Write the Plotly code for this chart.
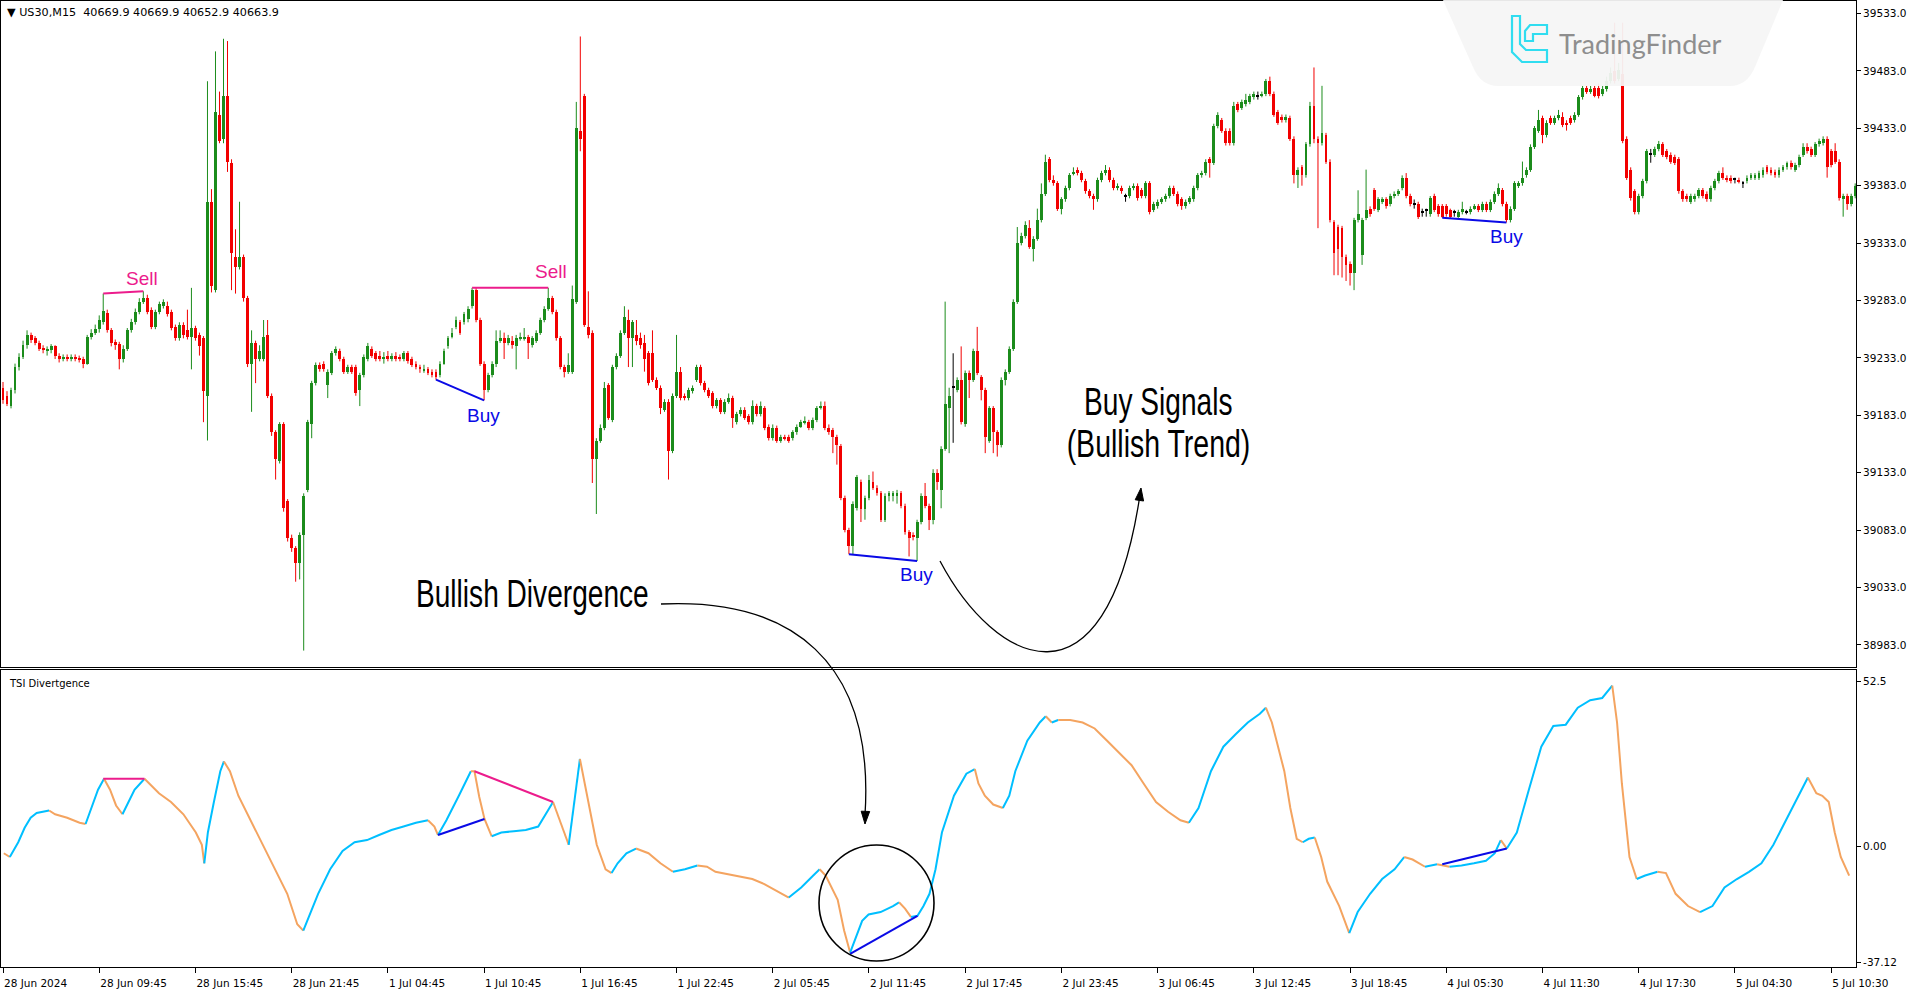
import plotly.graph_objects as go

W, H = 1920, 997

# ---------------- DATA ----------------
open_ = [
39207,39200,39191,39205,39225,39234,39244,39253,39250,39246,
39242,39239,39240,39243,39235,39232,39234,39232,39234,39233,
39232,39228,39251,39255,39258,39264,39272,39257,39247,39245,
39232,39241,39257,39264,39273,39282,39285,39275,39260,39273,
39278,39278,39273,39260,39250,39262,39257,39251,39259,39253,
39250,39200,39369,39292,39445,39424,39461,39403,39321,39312,
39321,39285,39228,39246,39232,39232,39253,39200,39168,39143,
39175,39108,39076,39067,39054,39079,39118,39175,39211,39227,
39228,39209,39220,39237,39239,39232,39221,39225,39225,39205,
39218,39232,39241,39237,39235,39232,39235,39232,39235,39234,
39232,39237,39232,39228,39225,39222,39223,39221,39221,39218,
39228,39243,39251,39260,39264,39264,39267,39278,39292,39266,
39228,39205,39218,39228,39248,39250,39246,39248,39243,39250,
39250,39251,39244,39248,39255,39266,39276,39285,39273,39250,
39225,39221,39221,39282,39431,39461,39260,39255,39145,39161,
39172,39209,39179,39225,39235,39255,39266,39250,39253,39250,
39246,39237,39237,39214,39207,39188,39195,39152,39200,39221,
39200,39198,39204,39214,39225,39211,39205,39202,39191,39196,
39186,39195,39198,39177,39184,39188,39182,39177,39191,39184,
39189,39173,39163,39172,39161,39164,39164,39163,39168,39173,
39177,39177,39172,39179,39189,39191,39172,39170,39164,39156,
39111,39083,39069,39102,39125,39101,39111,39125,39120,39115,
39092,39113,39113,39113,39115,39104,39081,39079,39076,39090,
39113,39104,39092,39133,39118,39154,39189,39207,39205,39214,
39175,39220,39214,39239,39216,39205,39161,39189,39168,39157,
39214,39221,39241,39282,39333,39339,39346,39328,39337,39353,
39376,39406,39388,39385,39363,39371,39381,39394,39397,39394,
39387,39378,39374,39371,39388,39394,39397,39388,39381,39381,
39374,39374,39381,39383,39379,39374,39385,39362,39365,39369,
39371,39374,39381,39376,39371,39365,39369,39371,39381,39392,
39394,39406,39403,39435,39440,39431,39431,39420,39454,39451,
39454,39456,39460,39461,39461,39463,39474,39463,39447,39443,
39440,39442,39424,39392,39399,39392,39419,39452,39424,39420,
39427,39404,39351,39347,39346,39321,39315,39307,39353,39323,
39355,39363,39379,39362,39369,39371,39367,39374,39376,39381,
39390,39374,39367,39367,39360,39361,39358,39374,39365,39365,
39365,39362,39360,39356,39360,39360,39360,39363,39365,39362,
39367,39362,39369,39376,39379,39367,39353,39363,39383,39385,
39392,39397,39417,39431,39442,39427,39442,39438,39442,39443,
39438,39442,39440,39445,39460,39468,39465,39468,39468,39463,
39467,39474,39483,39476,39480,39424,39397,39378,39360,39374,
39387,39410,39410,39415,39419,39413,39410,39408,39406,39378,
39374,39369,39371,39374,39379,39376,39371,39381,39387,39394,
39390,39390,39388,39388,39385,39387,39390,39390,39390,39392,
39399,39397,39395,39392,39397,39399,39403,39397,39401,39410,
39417,39415,39410,39419,39420,39424,39413,39413,39404,39371,
39374,39367,39374]

close_ = [
39196,39193,39205,39225,39234,39244,39253,39249,39246,39241,
39240,39241,39243,39235,39232,39234,39232,39234,39232,39231,
39228,39251,39255,39258,39266,39274,39257,39246,39244,39232,
39241,39257,39264,39273,39282,39285,39273,39260,39273,39280,
39282,39271,39259,39250,39262,39253,39251,39259,39250,39243,
39204,39369,39296,39447,39422,39461,39404,39324,39312,39321,
39285,39228,39246,39232,39239,39251,39200,39168,39145,39175,
39102,39076,39067,39054,39079,39113,39177,39211,39227,39223,
39223,39221,39237,39241,39232,39221,39225,39221,39202,39218,
39234,39243,39235,39232,39232,39234,39232,39235,39232,39232,
39237,39230,39227,39225,39223,39223,39220,39218,39216,39228,
39239,39250,39255,39266,39255,39271,39276,39292,39266,39228,
39205,39218,39228,39248,39250,39246,39250,39244,39250,39251,
39251,39246,39250,39255,39266,39276,39285,39273,39250,39225,
39221,39227,39284,39433,39424,39262,39253,39145,39161,39172,
39207,39181,39225,39235,39255,39269,39250,39264,39248,39244,
39232,39211,39214,39207,39189,39195,39152,39200,39221,39198,
39198,39205,39207,39225,39211,39205,39200,39191,39196,39186,
39195,39198,39181,39184,39188,39181,39177,39191,39184,39191,
39172,39163,39172,39161,39164,39163,39161,39168,39173,39177,
39178,39172,39179,39189,39191,39172,39168,39164,39157,39111,
39083,39069,39106,39129,39101,39111,39127,39120,39115,39092,
39113,39115,39115,39115,39104,39081,39076,39077,39090,39113,
39104,39092,39133,39125,39154,39193,39200,39207,39214,39177,
39220,39214,39239,39220,39205,39164,39189,39168,39157,39214,
39221,39241,39282,39333,39339,39349,39330,39337,39353,39376,
39404,39388,39385,39363,39371,39381,39392,39395,39394,39388,
39378,39374,39371,39388,39394,39397,39388,39381,39383,39378,
39374,39381,39383,39372,39374,39385,39360,39367,39369,39371,
39374,39381,39376,39367,39365,39369,39372,39381,39392,39394,
39404,39403,39435,39445,39431,39420,39420,39452,39449,39456,
39458,39461,39463,39461,39463,39474,39463,39445,39438,39440,
39443,39424,39392,39397,39392,39419,39452,39424,39420,39429,
39404,39353,39324,39328,39321,39314,39307,39353,39358,39353,
39362,39358,39363,39371,39371,39365,39374,39376,39378,39390,
39374,39367,39367,39356,39360,39361,39372,39362,39358,39356,
39358,39356,39360,39360,39363,39360,39363,39365,39362,39367,
39362,39369,39376,39381,39367,39353,39363,39385,39385,39390,
39397,39417,39433,39440,39427,39438,39438,39442,39445,39436,
39436,39438,39445,39460,39468,39465,39467,39461,39461,39467,
39474,39481,39474,39484,39422,39390,39372,39360,39374,39387,
39413,39410,39415,39419,39410,39408,39404,39403,39378,39371,
39371,39374,39374,39379,39374,39371,39381,39387,39394,39390,
39388,39387,39388,39387,39385,39390,39392,39392,39394,39397,
39395,39394,39392,39397,39399,39403,39399,39401,39408,39417,
39413,39410,39419,39422,39424,39399,39401,39404,39372,39374,
39367,39374,39383]

high_ = [
39212,39204,39207,39228,39237,39248,39257,39255,39252,39248,
39244,39243,39245,39244,39237,39236,39236,39236,39236,39235,
39234,39253,39258,39262,39270,39289,39275,39259,39249,39247,
39244,39259,39267,39276,39285,39291,39288,39277,39275,39282,
39284,39282,39275,39262,39264,39264,39275,39294,39261,39255,
39252,39474,39380,39500,39465,39511,39509,39406,39345,39369,
39323,39287,39257,39248,39244,39266,39266,39202,39170,39177,
39177,39110,39079,39069,39081,39115,39179,39213,39229,39229,
39230,39223,39239,39243,39241,39234,39227,39227,39227,39220,
39236,39246,39243,39239,39239,39238,39239,39237,39238,39236,
39239,39239,39234,39230,39227,39227,39225,39223,39223,39230,
39241,39252,39259,39269,39266,39273,39278,39294,39294,39268,
39230,39220,39230,39257,39257,39255,39253,39252,39253,39255,
39259,39253,39252,39257,39268,39278,39294,39287,39275,39252,
39227,39237,39296,39456,39513,39463,39291,39257,39163,39175,
39212,39211,39227,39237,39257,39278,39275,39266,39266,39255,
39253,39239,39257,39216,39209,39197,39197,39202,39253,39225,
39202,39207,39209,39227,39227,39213,39207,39204,39198,39198,
39197,39202,39200,39186,39190,39190,39184,39196,39193,39195,
39191,39175,39175,39174,39166,39166,39166,39170,39175,39179,
39182,39179,39181,39191,39195,39195,39175,39172,39166,39158,
39113,39085,39108,39131,39127,39113,39131,39134,39122,39117,
39115,39117,39117,39118,39117,39106,39083,39081,39092,39115,
39124,39106,39136,39136,39156,39282,39207,39237,39216,39243,
39222,39222,39241,39260,39218,39207,39191,39191,39170,39216,
39223,39243,39284,39347,39342,39352,39353,39339,39363,39385,
39410,39408,39392,39387,39373,39383,39394,39399,39399,39396,
39389,39380,39376,39390,39396,39401,39399,39390,39385,39383,
39376,39383,39385,39385,39381,39387,39387,39369,39371,39373,
39376,39383,39383,39378,39373,39371,39374,39383,39394,39396,
39406,39408,39437,39447,39442,39433,39433,39456,39456,39458,
39463,39463,39465,39465,39465,39476,39478,39465,39449,39445,
39445,39444,39426,39399,39401,39421,39456,39486,39426,39470,
39429,39406,39353,39349,39348,39323,39317,39355,39379,39355,
39397,39365,39381,39373,39373,39373,39376,39378,39380,39392,
39394,39376,39371,39369,39363,39363,39374,39376,39367,39367,
39367,39363,39362,39362,39369,39362,39365,39367,39367,39369,
39369,39371,39378,39385,39381,39369,39365,39387,39387,39404,
39399,39419,39435,39449,39444,39440,39444,39444,39449,39447,
39440,39444,39447,39462,39470,39470,39470,39470,39472,39470,
39478,39486,39525,39490,39525,39426,39399,39380,39376,39389,
39415,39415,39417,39422,39421,39415,39412,39410,39408,39380,
39376,39376,39376,39381,39381,39378,39383,39389,39396,39399,
39392,39392,39390,39390,39387,39392,39394,39394,39396,39399,
39401,39399,39397,39399,39401,39404,39405,39403,39410,39420,
39420,39417,39421,39424,39426,39426,39415,39420,39406,39376,
39376,39376,39385]

low_ = [
39193,39191,39189,39202,39222,39232,39241,39246,39244,39239,
39237,39235,39237,39232,39229,39230,39230,39230,39230,39229,
39224,39227,39249,39253,39255,39262,39255,39243,39240,39223,
39229,39239,39255,39262,39271,39280,39271,39258,39258,39271,
39276,39269,39257,39248,39248,39250,39249,39223,39248,39235,
39177,39161,39290,39290,39420,39420,39395,39292,39289,39310,
39282,39225,39186,39211,39230,39230,39198,39165,39127,39141,
39099,39073,39064,39038,39040,38978,39116,39163,39209,39221,
39221,39198,39218,39235,39230,39219,39219,39219,39200,39191,
39216,39230,39233,39230,39230,39228,39230,39230,39230,39230,
39230,39228,39225,39223,39220,39220,39218,39216,39214,39216,
39227,39241,39250,39258,39253,39262,39264,39276,39264,39226,
39196,39203,39216,39225,39246,39232,39244,39241,39223,39248,
39248,39232,39242,39246,39253,39264,39274,39271,39248,39223,
39216,39219,39219,39280,39413,39260,39250,39124,39097,39159,
39170,39179,39177,39223,39233,39253,39225,39225,39244,39241,
39221,39209,39212,39205,39184,39186,39127,39150,39198,39196,
39196,39196,39202,39212,39209,39203,39198,39189,39189,39184,
39184,39193,39172,39175,39182,39179,39175,39175,39182,39182,
39170,39161,39161,39159,39159,39161,39159,39161,39166,39172,
39175,39170,39170,39177,39188,39170,39166,39150,39140,39109,
39081,39062,39062,39100,39090,39092,39109,39118,39113,39090,
39090,39108,39108,39106,39102,39079,39060,39074,39056,39088,
39102,39083,39088,39118,39102,39152,39150,39159,39203,39175,
39173,39198,39212,39218,39196,39150,39159,39150,39147,39155,
39209,39219,39239,39280,39331,39337,39328,39317,39335,39351,
39374,39386,39383,39361,39358,39369,39379,39392,39392,39386,
39376,39372,39362,39369,39386,39392,39386,39379,39379,39376,
39369,39372,39379,39370,39372,39372,39358,39360,39363,39367,
39369,39372,39374,39365,39362,39363,39367,39369,39379,39390,
39392,39390,39401,39433,39429,39418,39418,39418,39447,39449,
39452,39454,39458,39458,39460,39461,39461,39443,39436,39438,
39438,39422,39385,39381,39383,39390,39417,39420,39346,39418,
39402,39351,39305,39305,39303,39300,39296,39292,39351,39314,
39353,39356,39361,39360,39367,39363,39365,39372,39374,39379,
39372,39365,39363,39354,39356,39356,39356,39360,39356,39355,
39356,39355,39356,39355,39358,39358,39358,39362,39360,39360,
39360,39360,39367,39374,39365,39351,39351,39361,39381,39383,
39390,39395,39415,39429,39420,39425,39436,39436,39440,39434,
39431,39436,39438,39443,39458,39463,39463,39460,39459,39461,
39465,39472,39472,39474,39420,39388,39370,39358,39358,39372,
39385,39403,39408,39413,39408,39406,39402,39401,39376,39369,
39369,39367,39369,39372,39372,39369,39369,39379,39385,39388,
39386,39385,39385,39385,39381,39385,39388,39388,39388,39390,
39393,39392,39390,39390,39395,39397,39397,39395,39399,39408,
39411,39408,39408,39417,39418,39390,39399,39402,39370,39356,
39362,39365,39372]

tick_bars = [0, 24, 48, 72, 96, 120, 144, 168, 192, 216, 240, 264, 288, 312, 336, 360, 384, 408, 432, 456]
tick_labels = ["28 Jun 2024", "28 Jun 09:45", "28 Jun 15:45", "28 Jun 21:45", "1 Jul 04:45",
               "1 Jul 10:45", "1 Jul 16:45", "1 Jul 22:45", "2 Jul 05:45", "2 Jul 11:45",
               "2 Jul 17:45", "2 Jul 23:45", "3 Jul 06:45", "3 Jul 12:45", "3 Jul 18:45",
               "4 Jul 05:30", "4 Jul 11:30", "4 Jul 17:30", "5 Jul 04:30", "5 Jul 10:30"]

price_ticks = [38983, 39033, 39083, 39133, 39183, 39233, 39283, 39333, 39383, 39433, 39483, 39533]
tsi_ticks = [52.5, 0.0, -37.12]
tsi_tick_labels = ["52.5", "0.00", "-37.12"]

tsi_bar = [0.2, 1.7, 3.8, 5.4, 6.9, 8.4, 9.9, 11.5, 13.0, 16.0,
           19.1, 20.6, 22.1, 23.7, 25.2, 26.7, 28.2, 29.8, 31.3, 32.8,
           35.3, 36.5, 38.9, 41.9, 45.0, 48.1, 49.6, 50.2, 51.1, 52.6,
           54.2, 55.1, 56.6, 58.7, 61.8, 64.8, 67.9, 70.9, 73.4, 74.9,
           76.1, 78.6, 81.6, 84.7, 87.7, 90.8, 93.8, 96.9, 99.9, 103.0,
           106.0, 107.6, 108.5, 110.6, 113.7, 116.7, 117.6, 118.8, 120.1, 121.9,
           124.3, 127.4, 130.4, 133.5, 135.3, 137.2, 139.0, 141.1, 142.6, 143.9,
           145.1, 146.3, 148.1, 150.3, 151.8, 153.3, 155.5, 157.9, 161.0, 164.0,
           167.1, 170.1, 173.2, 175.6, 177.7, 182.3, 186.9, 189.9, 194.5, 196.0,
           199.1, 202.1, 203.7, 205.2, 208.2, 209.8, 211.3, 212.8, 214.3, 215.9,
           218.9, 222.0, 223.5, 225.0, 226.5, 228.1, 229.6, 231.1, 232.6, 234.2,
           237.2, 240.3, 242.4, 243.3, 244.9, 247.0, 249.4, 251.0, 252.5, 255.5,
           258.6, 260.1, 261.6, 263.2, 266.2, 269.3, 272.3, 275.4, 278.4, 281.5,
           284.5, 287.6, 290.6, 293.7, 295.8, 298.2, 301.3, 304.4, 307.4, 310.5,
           313.5, 315.0, 316.5, 319.6, 321.1, 322.7, 324.2, 325.7, 327.2, 328.8,
           330.3, 333.3, 335.8, 337.9, 341.0, 344.0, 347.1, 349.5, 351.6, 354.7,
           357.7, 360.8, 363.8, 366.9, 369.9, 372.1, 373.6, 375.1, 377.6, 380.6,
           383.7, 386.7, 389.8, 392.8, 395.9, 398.9, 401.4, 402.6, 403.8, 405.7,
           407.5, 409.6, 412.7, 414.8, 417.2, 420.3, 423.3, 426.4, 429.4, 432.5,
           435.5, 438.6, 441.6, 444.7, 447.7, 450.2, 452.3, 453.8, 455.4, 456.9,
           458.4, 460.5]
tsi_val = [-2.3, -3.5, 1.2, 5.8, 9.0, 10.5, 10.9, 11.3, 10.1, 9.0,
           7.4, 7.0, 12.1, 17.9, 21.4, 17.9, 12.9, 10.1, 14.0, 17.9,
           21.4, 19.9, 16.8, 14.0, 10.1, 4.3, 0.4, -5.5, 4.3, 14.0,
           23.8, 26.9, 23.8, 16.0, 8.2, 0.4, -7.4, -15.2, -24.9, -26.9,
           -23.0, -15.2, -7.4, -1.6, 1.2, 1.9, 3.5, 5.1, 6.2, 7.4,
           8.2, 6.2, 3.5, 8.2, 16.0, 23.8, 23.8, 15.6, 8.6, 3.1,
           4.3, 4.7, 5.1, 6.2, 10.1, 14.0, 7.4, 0.4, 16.0, 27.7,
           19.9, 12.1, 0.4, -7.4, -8.6, -5.5, -2.3, -0.8, -2.3, -5.5,
           -8.2, -7.4, -6.2, -6.6, -8.2, -9.4, -10.5, -12.1, -15.2, -16.4,
           -13.2, -9.4, -7.4, -9.4, -17.1, -26.9, -33.9, -28.8, -23.8, -21.8,
           -21.0, -19.1, -17.9, -19.9, -22.6, -22.2, -19.1, -15.2, -7.4, 4.3,
           16.0, 23.0, 24.5, 19.9, 16.0, 13.2, 12.1, 16.0, 23.8, 33.5,
           39.3, 41.3, 39.3, 40.1, 40.1, 39.3, 37.4, 33.5, 29.6, 25.7,
           19.9, 14.0, 10.9, 8.2, 7.4, 12.1, 23.8, 31.6, 35.5, 39.3,
           42.1, 44.0, 39.3, 23.8, 12.1, 2.3, 1.2, 2.3, 2.7, -3.5,
           -11.3, -19.1, -27.7, -21.0, -15.2, -10.5, -7.4, -3.5, -4.3, -6.6,
           -5.8, -6.6, -6.2, -5.5, -4.7, -2.3, 1.9, -0.8, 4.3, 17.9,
           31.6, 38.2, 38.6, 44.0, 46.4, 47.1, 51.0, 39.3, 19.9, -3.5,
           -10.5, -9.4, -8.2, -8.6, -15.2, -19.1, -21.0, -19.1, -13.2, -10.5,
           -8.2, -5.5, 0.4, 8.2, 16.0, 21.8, 16.8, 16.0, 14.0, 4.3,
           -3.5, -9.4]

div_kind = ["sell", "buy", "sell", "buy", "buy"]
div_bar0 = [25, 108, 117, 211, 359]
div_bar1 = [35, 120, 136, 228, 375]
div_price0 = [39289, 39214, 39294, 39062, 39355]
div_price1 = [39291, 39196, 39294, 39056, 39351]
div_tbar0 = [25, 108.5, 117.6, 211.3, 359.0]
div_tbar1 = [35.3, 120.1, 137.2, 228.1, 375.1]
div_tsi0 = [21.4, 3.5, 23.8, -34.3, -5.8]
div_tsi1 = [21.4, 8.6, 14.0, -22.2, -0.8]
label_text = ["Sell", "Buy", "Sell", "Buy", "Buy"]
label_bar = [34.7, 119.8, 136.8, 227.9, 374.9]
label_price = [39302, 39183, 39308, 39044, 39339]

# ---------------- STYLE ----------------
GREEN = "#1C8C1C"
RED = "#F20000"
DOJI = "#000000"
BLUE_L = "#00BFFF"
ORANGE_L = "#F4A460"
PINK = "#EC1C8C"
BUY_BLUE = "#0A0AE6"
FONT = "DejaVu Sans"


def pxx(x):
    return x / W


def pxy(y):
    return 1 - y / H


fig = go.Figure()

n = len(close_)
wick = {GREEN: ([], []), RED: ([], []), DOJI: ([], [])}
body = {GREEN: ([], [], []), RED: ([], [], []), DOJI: ([], [], [])}
for i in range(n):
    o, c, h, l = open_[i], close_[i], high_[i], low_[i]
    col = GREEN if c > o else (RED if c < o else DOJI)
    wick[col][0].extend([i, i, None])
    wick[col][1].extend([l, h, None])
    body[col][0].append(i)
    body[col][1].append(min(o, c))
    body[col][2].append(max(abs(c - o), 1.0))

for col, (xs, ys) in wick.items():
    fig.add_trace(go.Scatter(x=xs, y=ys, mode="lines", line=dict(color=col, width=1),
                             hoverinfo="skip", xaxis="x", yaxis="y"))
for col, (xs, bs, hs) in body.items():
    fig.add_trace(go.Bar(x=xs, y=hs, base=bs, width=0.72, marker=dict(color=col, line=dict(width=0)),
                         hoverinfo="skip", xaxis="x", yaxis="y"))

for k in range(len(div_kind)):
    col = PINK if div_kind[k] == "sell" else BUY_BLUE
    fig.add_trace(go.Scatter(x=[div_bar0[k], div_bar1[k]], y=[div_price0[k], div_price1[k]],
                             mode="lines", line=dict(color=col, width=2), xaxis="x", yaxis="y",
                             hoverinfo="skip"))

runs = []
cur = None
for k in range(len(tsi_val) - 1):
    col = BLUE_L if tsi_val[k + 1] > tsi_val[k] else ORANGE_L
    if cur is None or cur[0] != col:
        cur = [col, [tsi_bar[k]], [tsi_val[k]]]
        runs.append(cur)
    cur[1].append(tsi_bar[k + 1])
    cur[2].append(tsi_val[k + 1])
for col, xs, ys in runs:
    fig.add_trace(go.Scatter(x=xs, y=ys, mode="lines", line=dict(color=col, width=2),
                             xaxis="x2", yaxis="y2", hoverinfo="skip"))

for k in range(len(div_kind)):
    col = PINK if div_kind[k] == "sell" else BUY_BLUE
    fig.add_trace(go.Scatter(x=[div_tbar0[k], div_tbar1[k]], y=[div_tsi0[k], div_tsi1[k]],
                             mode="lines", line=dict(color=col, width=2), xaxis="x2", yaxis="y2",
                             hoverinfo="skip"))

# ---------------- LAYOUT ----------------
xdom = [pxx(1), pxx(1856)]
xrange_ = [-0.5, 462.2]
axis_common = dict(showgrid=False, zeroline=False, showline=True, linecolor="black", linewidth=1,
                   mirror=True, automargin=False)

fig.update_layout(
    width=W, height=H, margin=dict(l=0, r=0, t=0, b=0, pad=0, autoexpand=False),
    paper_bgcolor="white", plot_bgcolor="white", showlegend=False,
    barmode="overlay", bargap=0,
    xaxis=dict(domain=xdom, range=xrange_, anchor="y", showticklabels=False, ticks="",
               **axis_common),
    yaxis=dict(domain=[pxy(667), pxy(1)], range=[38963.7, 39543.9], anchor="x", side="right",
               tickvals=price_ticks, ticktext=[f"{v:.1f}" for v in price_ticks],
               ticks="outside", ticklen=4, tickcolor="black",
               tickfont=dict(family=FONT, size=10.5, color="black"), **axis_common),
    xaxis2=dict(domain=xdom, range=xrange_, anchor="y2", tickvals=tick_bars, ticktext=tick_labels,
                ticks="outside", ticklen=5, tickcolor="black", ticklabelposition="outside right",
                ticklabelstandoff=6,
                tickfont=dict(family=FONT, size=10.5, color="black"), **axis_common),
    yaxis2=dict(domain=[pxy(967), pxy(670)], range=[-38.49, 56.0], anchor="x2", side="right",
                tickvals=tsi_ticks, ticktext=tsi_tick_labels, ticks="outside", ticklen=4,
                tickcolor="black", tickfont=dict(family=FONT, size=10.5, color="black"),
                **axis_common),
)

annotations = []
for k in range(len(label_text)):
    col = PINK if label_text[k] == "Sell" else BUY_BLUE
    annotations.append(dict(x=label_bar[k], y=label_price[k], xref="x", yref="y", text=label_text[k],
                            showarrow=False, font=dict(family="Liberation Sans", size=19, color=col),
                            xanchor="center", yanchor="middle"))

annotations.append(dict(x=pxx(5), y=pxy(12), xref="paper", yref="paper", xanchor="left", yanchor="middle",
                        text="\u25BC US30,M15\u00a0\u00a040669.9 40669.9 40652.9 40663.9", showarrow=False,
                        font=dict(family=FONT, size=11.2, color="black")))
annotations.append(dict(x=pxx(7), y=pxy(683), xref="paper", yref="paper", xanchor="left", yanchor="middle",
                        text="TSI Divertgence", showarrow=False,
                        font=dict(family=FONT, size=10, color="black")))

BIG = "Liberation Sans, Arial, sans-serif"
for txt, cx, cy in [("Bullish Divergence", 532, 594), ("Buy Signals", 1158, 402),
                    ("(Bullish Trend)", 1158, 444)]:
    annotations.append(dict(x=pxx(cx), y=pxy(cy), xref="paper", yref="paper", text=txt,
                            xanchor="center", yanchor="middle", showarrow=False,
                            font=dict(family=BIG, size=38, color="black")))
annotations.append(dict(x=pxx(1640), y=pxy(43), xref="paper", yref="paper", text="TradingFinder",
                        xanchor="center", yanchor="middle", showarrow=False,
                        font=dict(family="Lato", size=27, color="#8e8e8e")))
fig.update_layout(annotations=annotations)


def P(x, y):
    return f"{pxx(x):.5f},{pxy(y):.5f}"


shapes = []
shapes.append(dict(type="path", xref="paper", yref="paper",
                   path=f"M {P(661,604)} C {P(790,598)} {P(875,660)} {P(865,815)}",
                   line=dict(color="black", width=1.3), layer="above"))
shapes.append(dict(type="path", xref="paper", yref="paper",
                   path=f"M {P(865,824)} L {P(869.7,811.5)} L {P(861.2,811.2)} Z",
                   fillcolor="black", line=dict(color="black", width=1), layer="above"))
shapes.append(dict(type="path", xref="paper", yref="paper",
                   path=f"M {P(940,561)} C {P(995,665)} {P(1105,720)} {P(1139.5,498)}",
                   line=dict(color="black", width=1.3), layer="above"))
shapes.append(dict(type="path", xref="paper", yref="paper",
                   path=f"M {P(1141,488)} L {P(1143.6,501)} L {P(1135.2,499.8)} Z",
                   fillcolor="black", line=dict(color="black", width=1), layer="above"))
shapes.append(dict(type="circle", xref="paper", yref="paper",
                   x0=pxx(819), x1=pxx(934), y0=pxy(961), y1=pxy(845),
                   line=dict(color="black", width=1.6), layer="above"))
shapes.append(dict(type="path", xref="paper", yref="paper",
                   path=f"M {P(1443,0)} L {P(1473,67)} Q {P(1481,86)} {P(1498,86)} L {P(1730,86)} "
                        f"Q {P(1747,86)} {P(1755,67)} L {P(1783,0)} Z",
                   fillcolor="rgba(245,245,245,0.94)", line=dict(width=0), layer="above"))
shapes.append(dict(type="path", xref="paper", yref="paper",
                   path=f"M {P(1512,16)} L {P(1520,16)} L {P(1520,44)} L {P(1526,50)} L {P(1547,50)} "
                        f"L {P(1547,62)} L {P(1522,62)} L {P(1512,52)} Z",
                   line=dict(color="#30DDF0", width=2.2), layer="above"))
shapes.append(dict(type="path", xref="paper", yref="paper",
                   path=f"M {P(1525,31)} L {P(1530,25)} L {P(1547,25)} L {P(1547,34)} L {P(1533,34)} "
                        f"L {P(1533,41)} L {P(1525,41)} Z",
                   line=dict(color="#30DDF0", width=2.2), layer="above"))
fig.update_layout(shapes=shapes)

post = """
(function(){
  document.documentElement.style.margin = '0';
  document.body.style.margin = '0';
  document.body.style.padding = '0';
  document.body.style.overflow = 'hidden';
  var scales = {'Bullish Divergence':0.74, 'Buy Signals':0.74, '(Bullish Trend)':0.75};
  function condense(){
    var els = document.querySelectorAll('text.annotation-text');
    els.forEach(function(t){
      var f = scales[t.textContent];
      if(f){
        t.removeAttribute('transform');
        var b = t.getBBox();
        var cx = b.x + b.width / 2;
        t.setAttribute('transform','translate('+cx+',0) scale('+f+',1) translate('+(-cx)+',0)');
      }
    });
  }
  condense();
  setTimeout(condense, 50); setTimeout(condense, 300); setTimeout(condense, 1000);
  var gd = document.querySelector('.plotly-graph-div');
  if(gd && gd.on){ gd.on('plotly_afterplot', condense); }
})();
"""
fig.write_html("out.html", config={"displayModeBar": False}, post_script=post)
